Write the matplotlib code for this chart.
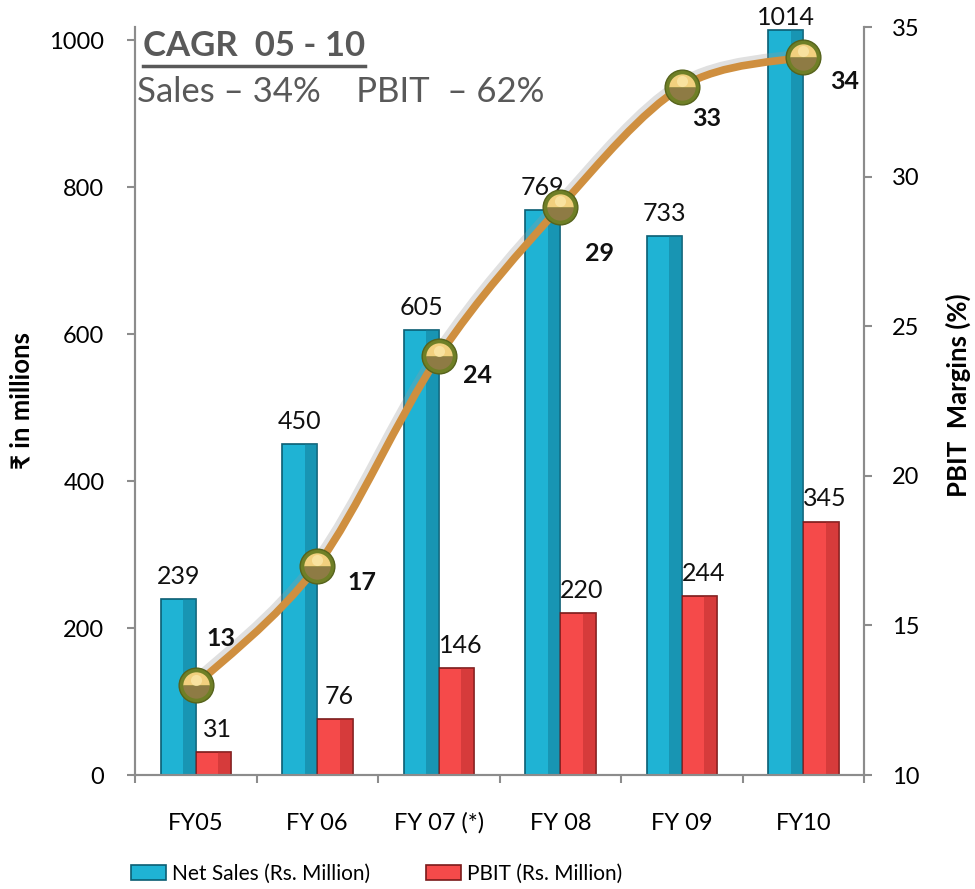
import numpy as np
import matplotlib.pyplot as plt
import matplotlib.transforms as mtransforms
from matplotlib.path import Path
from matplotlib.patches import PathPatch, Rectangle
from matplotlib.lines import Line2D
import matplotlib.patheffects as pe

plt.rcParams['font.family'] = ['Lato', 'DejaVu Sans']

years = ['FY05', 'FY 06', 'FY 07 (*)', 'FY 08', 'FY 09', 'FY10']
net_sales = [239, 450, 605, 769, 733, 1014]
pbit = [31, 76, 146, 220, 244, 345]
pbit_margin = [13, 17, 24, 29, 33, 34]

sales_color = '#1FB3D4'
sales_edge = '#0B5E73'
pbit_color = '#F54A4A'
pbit_edge = '#7A1A1A'
line_color = '#CF8F3F'
axis_gray = '#8C8C8C'

fig = plt.figure(figsize=(9.75, 8.89), dpi=100)
ax = fig.add_axes([0.1385, 0.1282, 0.7477, 0.8414])
ax2 = ax.twinx()

x = np.arange(len(years))
w = 0.29

ax.bar(x - w / 2, net_sales, w, color=sales_color, edgecolor=sales_edge,
       linewidth=1.2, zorder=2)
ax.bar(x + w / 2, pbit, w, color=pbit_color, edgecolor=pbit_edge,
       linewidth=1.2, zorder=2)

# darker right-hand face to give the bars some depth
ax.bar(x - w / 2 + w * 0.32, net_sales, w * 0.36, color='#147E98', linewidth=0,
       zorder=2.1, alpha=0.55)
ax.bar(x + w / 2 + w * 0.32, pbit, w * 0.36, color='#B22A2A', linewidth=0,
       zorder=2.1, alpha=0.45)

# the tallest label sits right on its bar so it stays inside the figure
sales_pad = [8, 8, 8, 8, 8, 1]
for xi, v, p in zip(x, net_sales, sales_pad):
    ax.annotate(str(v), (xi - w / 2, v), xytext=(0, p), textcoords='offset points',
                ha='center', va='bottom', fontsize=18, color='#111111')
for xi, v in zip(x, pbit):
    ax.annotate(str(v), (xi + w / 2, v), xytext=(3, 8), textcoords='offset points',
                ha='center', va='bottom', fontsize=18, color='#111111')

ax.set_xlim(-0.5, len(years) - 0.5)
ax.set_ylim(0, 1018)
ax.set_yticks([0, 200, 400, 600, 800, 1000])
ax.set_xticks(x)
ax.set_xticklabels(years, fontsize=17)
ax.set_xticks(np.arange(-0.5, len(years)), minor=True)
ax.tick_params(axis='x', which='major', length=0, pad=27)
ax.tick_params(axis='x', which='minor', length=6, width=1.5, color=axis_gray, direction='out')
ax.tick_params(axis='y', labelsize=17, length=6, width=1.5, color=axis_gray, pad=16)

ax2.set_ylim(10, 35)
ax2.set_yticks([10, 15, 20, 25, 30, 35])
ax2.tick_params(axis='y', labelsize=17, length=6, width=1.5, color=axis_gray, pad=14)

for a in (ax, ax2):
    a.spines['top'].set_visible(False)
    for s in ('left', 'right', 'bottom'):
        a.spines[s].set_color(axis_gray)
        a.spines[s].set_linewidth(1.5)

# smoothed margin line (Catmull-Rom converted to cubic Bezier segments)
pts = np.column_stack([x, pbit_margin]).astype(float)
ext = np.vstack([pts[0], pts, pts[-1]])
verts = [tuple(pts[0])]
codes = [Path.MOVETO]
for i in range(len(pts) - 1):
    p0, p1, p2, p3 = ext[i], ext[i + 1], ext[i + 2], ext[i + 3]
    c1 = p1 + (p2 - p0) / 6
    c2 = p2 - (p3 - p1) / 6
    verts += [tuple(c1), tuple(c2), tuple(p2)]
    codes += [Path.CURVE4] * 3
curve = PathPatch(Path(verts, codes), facecolor='none', edgecolor=line_color,
                  linewidth=5.5, capstyle='round', zorder=3,
                  path_effects=[pe.SimpleLineShadow(offset=(-2, 3), shadow_color='#999999', alpha=0.3),
                                pe.Normal()])
ax2.add_patch(curve)

# golden sphere markers
ax2.plot(x, pbit_margin, 'o', ms=25, mfc='#6F7F26', mec='#56631C', mew=1, zorder=4)
ax2.plot(x, pbit_margin, 'o', ms=19, fillstyle='top', mfc='#F2D07E',
         mfcalt='#8E7B44', mew=0, zorder=5)
lift = ax2.transData + mtransforms.ScaledTranslation(0, 4 / 72, fig.dpi_scale_trans)
ax2.plot(x, pbit_margin, 'o', ms=8, mfc='#FBE7A8', mew=0, alpha=0.8, zorder=6,
         transform=lift)

margin_offsets = [(18, 34), (32, -12), (28, -14), (28, -34), (18, -23), (30, -18)]
for xi, v, off in zip(x, pbit_margin, margin_offsets):
    ax2.annotate(str(v), (xi, v), xytext=off, textcoords='offset points',
                 ha='center', va='center', fontsize=18, fontweight='bold', color='#111111',
                 zorder=7)

fig.text(22 / 975, 0.55, '₹ in millions', rotation=90, ha='center', va='center',
         fontsize=18.5, fontweight='bold')
fig.text(958 / 975, 0.555, 'PBIT  Margins (%)', rotation=90, ha='center', va='center',
         fontsize=18.5, fontweight='bold')

title = fig.text(143 / 975, 1 - 56 / 889, 'CAGR  05 - 10', ha='left', va='baseline',
                 fontsize=25, fontweight='bold', color='#595959')
fig.text(137 / 975, 1 - 102 / 889, 'Sales – 34%    PBIT  – 62%', ha='left', va='baseline',
         fontsize=25, color='#595959')
fig.canvas.draw()
bb = title.get_window_extent().transformed(fig.transFigure.inverted())
fig.add_artist(Line2D([bb.x0, bb.x1], [bb.y0 - 0.004, bb.y0 - 0.004],
                      color='#595959', linewidth=2.5, transform=fig.transFigure))

handles = [Rectangle((0, 0), 1, 1, facecolor=sales_color, edgecolor=sales_edge, linewidth=1.2),
           Rectangle((0, 0), 1, 1, facecolor=pbit_color, edgecolor=pbit_edge, linewidth=1.2)]
fig.legend(handles, ['Net Sales (Rs. Million)', 'PBIT (Rs. Million)'], loc='center left',
           bbox_to_anchor=(131 / 975, 1 - 874 / 889), borderaxespad=0, borderpad=0,
           ncol=2, frameon=False, fontsize=15,
           handlelength=1.7, handleheight=0.7, handletextpad=0.25, columnspacing=2.7)

fig.savefig('out.png', dpi=100)
